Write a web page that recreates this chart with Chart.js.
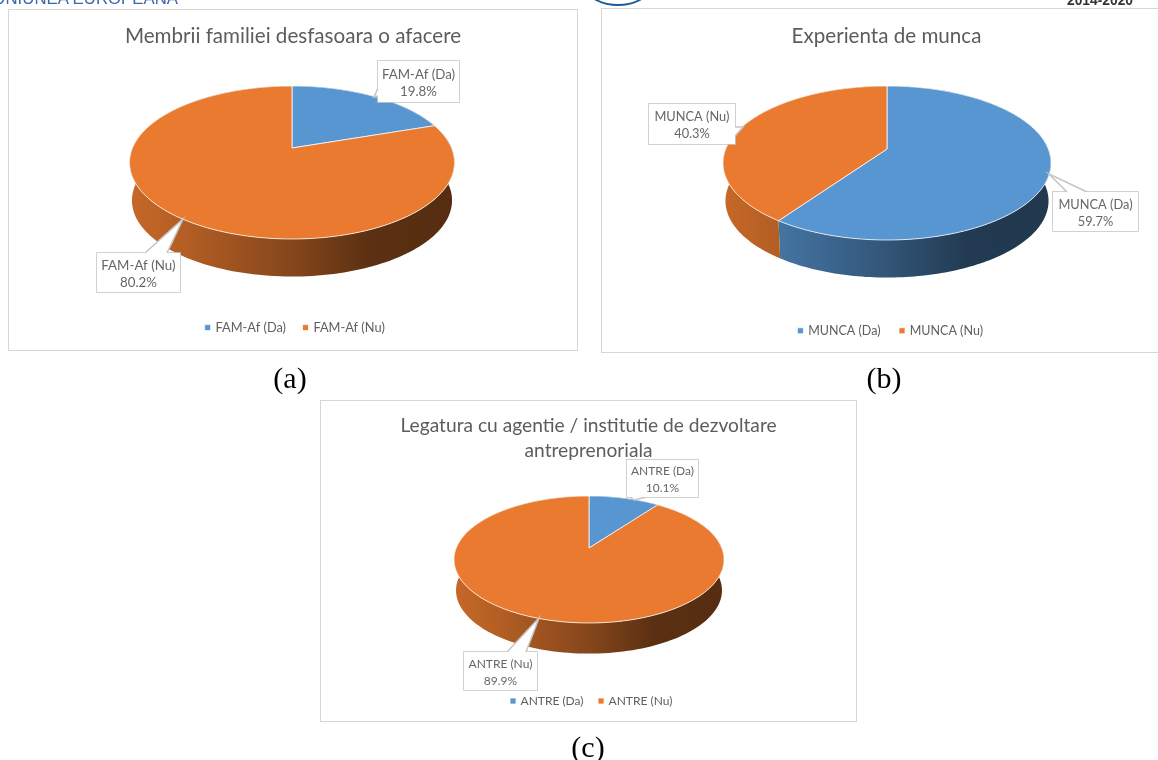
<!DOCTYPE html>
<html>
<head>
<meta charset="utf-8">
<script src="https://cdn.jsdelivr.net/npm/chart.js@4"></script>
<style>
html,body{margin:0;padding:0;background:#fff;width:1158px;height:760px;overflow:hidden;position:relative}
#page{position:absolute;left:0;top:0;width:1158px;height:760px;overflow:hidden;filter:blur(0.35px)}
.frame{position:absolute;box-sizing:border-box;border:1.5px solid #d6d6d6;background:#fff}
.frame canvas{position:absolute;left:-1.5px;top:-1.5px}
.cap{position:absolute;font-family:"Liberation Serif",serif;font-size:30px;color:#000;transform:translateX(-50%);line-height:32px}
.hdr{position:absolute;white-space:nowrap;font-family:"Liberation Sans",sans-serif}
#logo{position:absolute;left:588px;top:-26px;width:56px;height:28px;border:2.5px solid #1d5a96;border-radius:50%}
</style>
</head>
<body>
<div id="page">
<div class="hdr" style="right:980px;top:-10px;font-size:16.8px;color:#3e66ac;line-height:18px">UNIUNEA EUROPEANA</div>
<div id="logo"></div>
<div class="hdr" style="left:1067px;top:-7px;font-size:13.8px;font-weight:bold;color:#333;line-height:16px">2014-2020</div>

<div class="frame" style="left:8px;top:9px;width:570px;height:342px"><canvas id="chartA" width="570" height="342"></canvas></div>
<div class="frame" style="left:601px;top:8px;width:571px;height:345px"><canvas id="chartB" width="571" height="345"></canvas></div>
<div class="frame" style="left:320px;top:400px;width:537px;height:322px"><canvas id="chartC" width="537" height="322"></canvas></div>
<div class="cap" style="left:290px;top:362px">(a)</div>
<div class="cap" style="left:884px;top:362px">(b)</div>
<div class="cap" style="left:588px;top:731px">(c)</div>
</div>

<script>
// ---- data ----
const titleA = "Membrii familiei desfasoara o afacere";
const labelsA = ["FAM-Af (Da)", "FAM-Af (Nu)"];
const valuesA = [19.8, 80.2];

const titleB = "Experienta de munca";
const labelsB = ["MUNCA (Da)", "MUNCA (Nu)"];
const valuesB = [59.7, 40.3];

const titleC = ["Legatura cu agentie / institutie de dezvoltare", "antreprenoriala"];
const labelsC = ["ANTRE (Da)", "ANTRE (Nu)"];
const valuesC = [10.1, 89.9];

const sliceColors = ["#5896D2", "#E97A2F"];

// ---- page geometry (absolute page pixels) ----
const layoutA = {
  origin:[8,9], apexX:292, apexY:148, left:130, right:455, top:86, bottom:239, depth:38,
  boxes:[
    {x0:378,y0:61,x1:459,y1:102,tip:[374,97],base:[[378,88],[378,96]]},
    {x0:97,y0:253,x1:180,y1:292,tip:[183,219],base:[[145,253],[167,253]]}
  ], titlePad:{top:14,bottom:8}, titleSize:20.6, legendBottom:7, legendSize:12.8, legendPad:18, legendShift:2.5, boxFont:13.3
};
const layoutB = {
  origin:[601,8], apexX:887, apexY:149, left:723, right:1051, top:86, bottom:240, depth:38,
  boxes:[
    {x0:1053,y0:192,x1:1138,y1:231,tip:[1049,174],base:[[1067,192],[1087,192]]},
    {x0:649,y0:104,x1:735,y1:144,tip:[743,127],base:[[735,127],[735,136]]}
  ], titlePad:{top:15,bottom:8}, titleSize:20.6, legendBottom:6, legendSize:12.5, legendPad:20, legendShift:4.5, boxFont:12.8
};
const layoutC = {
  origin:[320,400], apexX:589, apexY:548, left:454, right:724, top:496, bottom:623, depth:31,
  boxes:[
    {x0:627,y0:460,x1:698,y1:497,tip:[634,500],base:[[630,497],[646,497]]},
    {x0:464,y0:652,x1:537,y1:690,tip:[539,618],base:[[507,652],[526,652]]}
  ], titlePad:{top:13,bottom:8}, titleSize:19.2, legendBottom:5, legendSize:12, legendPad:16, legendShift:3.5, boxFont:12
};

function shade(hex,f){
  const n=parseInt(hex.slice(1),16);
  return `rgb(${Math.round((n>>16&255)*f)},${Math.round((n>>8&255)*f)},${Math.round((n&255)*f)})`;
}

// Projects the library's arc angles on to a tilted disc in perspective.
function projector(g){
  const up=g.apexY-g.top, down=g.bottom-g.apexY;
  const k=-(down-up)/(down+up);
  const a=up*(1-k);
  const half=(g.right-g.left)/2;
  const c=half*Math.sqrt(1-k*k);
  const ox=g.origin[0], oy=g.origin[1];
  return (ang,onBase)=>{
    const u=Math.cos(ang), v=Math.sin(ang), w=1+k*v;
    const px=c*u/w, py=a*v/w;
    return onBase
      ? [g.apexX-ox+px*0.985, g.apexY-oy+py*0.995+g.depth]
      : [g.apexX-ox+px, g.apexY-oy+py];
  };
}

const pie3d = {
  id:'pie3d',
  afterLayout(chart){
    const g=chart.options.plugins.pie3d.geometry, l=chart.legend;
    l.left+=g.legendShift; l.right+=g.legendShift;
  },
  beforeDatasetDraw(chart){
    const g=chart.options.plugins.pie3d.geometry, ctx=chart.ctx, P=projector(g);
    const arcs=chart.getDatasetMeta(0).data, steps=180;
    const x0=g.left-g.origin[0], x1=g.right-g.origin[0];
    ctx.save();
    // side wall
    arcs.forEach(arc=>{
      const s=arc.startAngle, e=arc.endAngle, col=arc.options.backgroundColor;
      const grad=ctx.createLinearGradient(x0,0,x1,0);
      [[0,.85],[.17,.77],[.5,.57],[.74,.39],[1,.37]].forEach(p=>grad.addColorStop(p[0],shade(col,p[1])));
      ctx.beginPath();
      for(let i=0;i<=steps;i++){const p=P(s+(e-s)*i/steps,false);i?ctx.lineTo(p[0],p[1]):ctx.moveTo(p[0],p[1]);}
      for(let i=steps;i>=0;i--){const p=P(s+(e-s)*i/steps,true);ctx.lineTo(p[0],p[1]);}
      ctx.closePath();
      ctx.fillStyle=grad;ctx.fill();
    });
    // top face
    const apex=[g.apexX-g.origin[0],g.apexY-g.origin[1]];
    arcs.forEach(arc=>{
      const s=arc.startAngle, e=arc.endAngle;
      ctx.beginPath();ctx.moveTo(apex[0],apex[1]);
      for(let i=0;i<=steps;i++){const p=P(s+(e-s)*i/steps,false);ctx.lineTo(p[0],p[1]);}
      ctx.closePath();
      ctx.fillStyle=arc.options.backgroundColor;ctx.fill();
      ctx.lineWidth=arc.options.borderWidth;ctx.strokeStyle=arc.options.borderColor;ctx.lineJoin='round';ctx.stroke();
    });
    ctx.restore();
    return false;
  },
  afterDatasetsDraw(chart){
    const g=chart.options.plugins.pie3d.geometry, ctx=chart.ctx;
    const ox=g.origin[0], oy=g.origin[1];
    const values=chart.data.datasets[0].data, labels=chart.data.labels;
    ctx.save();
    g.boxes.forEach((b,i)=>{
      const x=b.x0-ox,y=b.y0-oy,w=b.x1-b.x0,h=b.y1-b.y0;
      ctx.lineWidth=1.6;ctx.strokeStyle='#c6c6c6';ctx.fillStyle='#fff';
      ctx.strokeRect(x,y,w,h);
      ctx.beginPath();
      ctx.moveTo(b.base[0][0]-ox,b.base[0][1]-oy);
      ctx.lineTo(b.tip[0]-ox,b.tip[1]-oy);
      ctx.lineTo(b.base[1][0]-ox,b.base[1][1]-oy);
      ctx.fill();ctx.stroke();
      ctx.fillRect(x,y,w,h);
      ctx.font=g.boxFont+'px Lato';ctx.fillStyle='#666';ctx.textAlign='center';ctx.textBaseline='middle';
      ctx.fillText(labels[i],x+w/2,y+h/2-7);
      ctx.fillText(values[i].toFixed(1)+'%',x+w/2,y+h/2+10);
    });
    ctx.restore();
  }
};

function makeChart(id,title,labels,values,geo){
  new Chart(document.getElementById(id),{
    type:'pie',
    data:{labels:labels,datasets:[{data:values,backgroundColor:sliceColors,borderColor:'rgba(255,255,255,0.75)',borderWidth:1}]},
    options:{
      responsive:false,animation:false,
      layout:{padding:{bottom:geo.legendBottom}},
      plugins:{
        pie3d:{geometry:geo},
        tooltip:{enabled:false},
        title:{display:true,text:title,color:'#5c5c5c',font:{family:'Lato',size:geo.titleSize,weight:'normal',lineHeight:1.3},padding:geo.titlePad},
        legend:{position:'bottom',labels:{color:'#5f5f5f',font:{family:'Lato',size:geo.legendSize},usePointStyle:true,pointStyle:'rect',boxWidth:3,boxHeight:6,padding:geo.legendPad}}
      }
    },
    plugins:[pie3d]
  });
}
makeChart('chartA',titleA,labelsA,valuesA,layoutA);
makeChart('chartB',titleB,labelsB,valuesB,layoutB);
makeChart('chartC',titleC,labelsC,valuesC,layoutC);
</script>
</body>
</html>
